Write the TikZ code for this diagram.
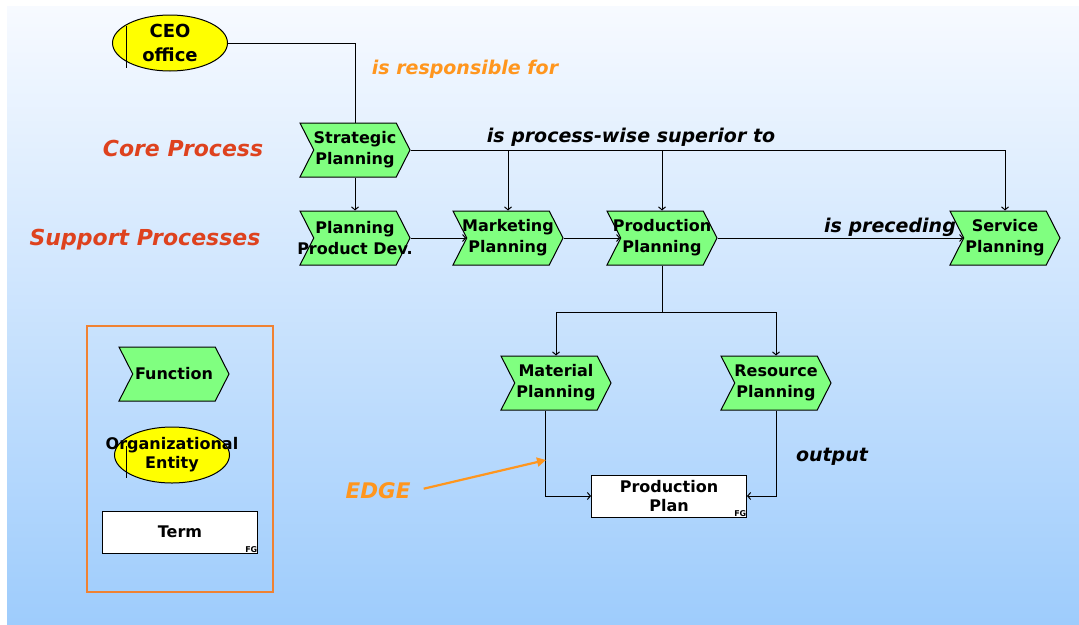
\documentclass[tikz,border=0pt]{standalone}
\usepackage{fontspec}
\setmainfont{DejaVu Sans}
\usetikzlibrary{shapes.symbols,shapes.geometric,arrows.meta}

\definecolor{fngreen}{RGB}{128,255,128}
\definecolor{orgyellow}{RGB}{255,255,0}
\definecolor{corered}{RGB}{222,66,30}
\definecolor{labelorange}{RGB}{255,150,30}
\definecolor{legendorange}{RGB}{240,130,50}
\definecolor{bgtop}{RGB}{247,250,255}
\definecolor{bgbot}{RGB}{158,204,252}

\tikzset{
    fn/.style={signal, signal from=west, signal to=east, signal pointer angle=126,
        draw, line width=1pt, fill=fngreen, minimum width=110pt, minimum height=54pt,
        inner xsep=-20pt, inner ysep=0pt, align=center,
        font=\fontsize{16}{21}\selectfont\bfseries},
    orgunit/.style={ellipse, draw, line width=1pt, fill=orgyellow, minimum width=115pt,
        minimum height=56pt, inner xsep=-32pt, inner ysep=-2pt, align=center,
        font=\fontsize{16}{19}\selectfont\bfseries},
    termbox/.style={rectangle, draw, line width=1pt, fill=white, minimum width=155pt,
        minimum height=42pt, inner sep=0pt, align=center,
        font=\fontsize{16}{19}\selectfont\bfseries},
    fgmark/.style={anchor=south east, inner sep=0.5pt, font=\fontsize{8}{8}\selectfont\bfseries},
    rel/.style={font=\fontsize{19}{21}\selectfont\bfseries\itshape},
    lane/.style={text=corered, font=\fontsize{22}{24}\selectfont\bfseries\itshape},
    conn/.style={line width=1pt, -{Straight Barb[length=3pt,width=7pt]}}
}

\begin{document}
\begin{tikzpicture}[x=1pt,y=-1pt]
    \useasboundingbox (0,0) rectangle (1079,624);
    \fill[white] (0,0) rectangle (1079,624);
    \shade[top color=bgtop, bottom color=bgbot] (7,6) rectangle (1079,624);

    \node[orgunit, font=\fontsize{18}{24}\selectfont\bfseries] (ceo) at (170,43) {CEO\\office};
    \draw[line width=0.8pt] (126,26) -- (126,68);

    \node[lane] (core) at (183,148) {Core Process};
    \node[lane] (support) at (145,240) {Support Processes};

    \node[fn] (strat) at (355,150) {Strategic\\Planning};
    \node[fn] (ppd) at (355,238) {Planning\\Product Dev.};
    \node[fn] (mkt) at (508,238) {Marketing\\Planning};
    \node[fn] (prod) at (662,238) {Production\\Planning};
    \node[fn] (serv) at (1005,238) {Service\\Planning};
    \node[fn] (mat) at (556,383) {Material\\Planning};
    \node[fn] (res) at (776,383) {Resource\\Planning};

    \node[termbox] (plan) at (669,496) {Production\\Plan};
    \node[fgmark] (planfg) at (plan.south east) {FG};

    \node[rel, text=labelorange] (resp) at (465,69) {is responsible for};
    \node[rel] (superior) at (631,137) {is process-wise superior to};
    \node[rel] (preceding) at (890,227) {is preceding};
    \node[rel] (output) at (832,457) {output};

    \draw[line width=1pt] (ceo.east) -| (strat.north);
    \draw[conn] (strat.south) -- (ppd.north);
    \draw[conn] (strat.east) -| (mkt.north);
    \draw[conn] (strat.east) -| (prod.north);
    \draw[conn] (strat.east) -| (serv.north);

    \draw[conn] (ppd.east) -- (mkt.west);
    \draw[conn] (mkt.east) -- (prod.west);
    \draw[conn] (prod.east) -- (serv.west);

    \coordinate (fork) at (662,312);
    \draw[line width=1pt] (prod.south) -- (fork);
    \draw[conn] (fork) -| (mat.north);
    \draw[conn] (fork) -| (res.north);

    \draw[conn] ([xshift=-11pt]mat.south) |- (plan.west);
    \draw[conn] (res.south) |- (plan.east);

    \node[text=labelorange, font=\fontsize{21.5}{22}\selectfont\bfseries\itshape] (edge) at (378,491) {EDGE};
    \coordinate (edgetip) at (546,460);
    \draw[labelorange, line width=2.2pt, shorten <=10pt, -{Triangle[length=9pt,width=9pt]}] (edge.east) -- (edgetip);

    \draw[legendorange, line width=2pt] (87,326) rectangle (273,592);
    \node[fn] (func) at (174,374) {Function};
    \node[orgunit] (orgent) at (172,455) {Organizational\\Entity};
    \draw[line width=0.8pt] (126,446) -- (126,478);
    \node[termbox] (term) at (180,532) {Term};
    \node[fgmark] (termfg) at (term.south east) {FG};
\end{tikzpicture}
\end{document}
